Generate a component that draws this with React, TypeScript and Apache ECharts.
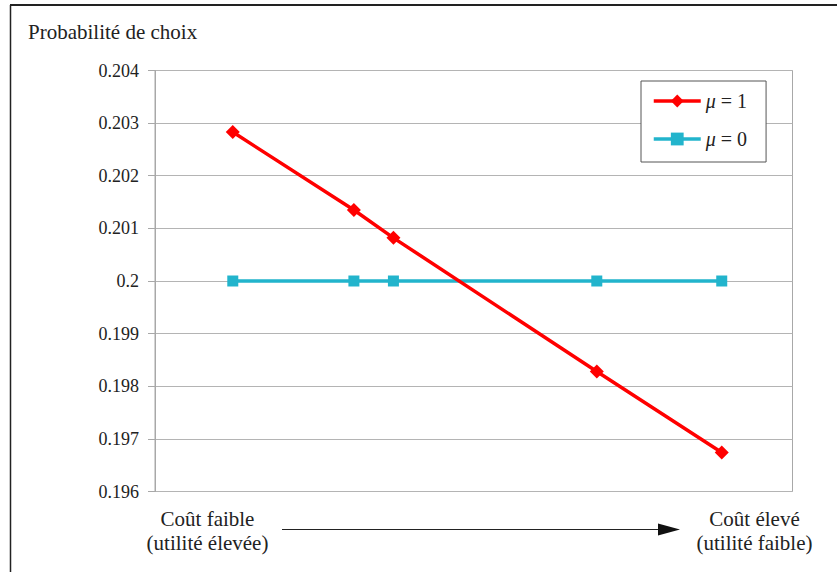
import React, { useEffect, useRef } from "react";
import * as echarts from "echarts";

const xPositions = [12.2, 31.2, 37.4, 69.3, 88.9];
const mu1Values = [0.20283, 0.20135, 0.20082, 0.19828, 0.19674];
const mu0Values = [0.2, 0.2, 0.2, 0.2, 0.2];
const seriesNames = ["μ = 1", "μ = 0"];
const yTitle = "Probabilité de choix";
const leftLabel = "Coût faible\n(utilité élevée)";
const rightLabel = "Coût élevé\n(utilité faible)";

const FONT = "Liberation Serif";

export default function App() {
  const ref = useRef<HTMLDivElement>(null);
  useEffect(() => {
    if (!ref.current) return;
    const chart = echarts.init(ref.current, undefined, { renderer: "svg" });
    const toPairs = (vals: number[]) => xPositions.map((x, i) => [x, vals[i]]);
    chart.setOption({
      animation: false,
      backgroundColor: "#fff",
      textStyle: { fontFamily: FONT },
      grid: {
        left: 155,
        right: 44.5,
        top: 70.5,
        bottom: 80.5,
        show: true,
        borderColor: "#a8a8a8",
        borderWidth: 1,
      },
      xAxis: {
        type: "value",
        min: 0,
        max: 100,
        show: false,
      },
      yAxis: {
        type: "value",
        min: 0.196,
        max: 0.204,
        interval: 0.001,
        axisLine: { show: true, lineStyle: { color: "#a8a8a8", width: 1 } },
        axisTick: { show: true, length: 7, lineStyle: { color: "#a8a8a8" } },
        axisLabel: {
          color: "#222",
          fontFamily: FONT,
          fontSize: 18,
          margin: 16,
          formatter: (v: number) => String(parseFloat(v.toFixed(3))),
        },
        splitLine: { show: true, lineStyle: { color: "#b4b4b4", width: 1 } },
      },
      legend: {
        orient: "vertical",
        left: 641,
        top: 81,
        padding: [10, 19, 13, 11],
        itemGap: 18,
        itemWidth: 47,
        itemHeight: 16,
        itemTextGap: 14,
        borderColor: "#555",
        borderWidth: 1,
        backgroundColor: "#fff",
        data: seriesNames,
        lineStyle: { width: 3.5 },
        formatter: (name: string) => "{i|μ}{n|" + name.slice(1) + "}",
        textStyle: {
          fontFamily: FONT,
          fontSize: 20,
          color: "#222",
          lineHeight: 20,
          rich: {
            i: { fontStyle: "italic", fontFamily: FONT, fontSize: 20, color: "#222", lineHeight: 20 },
            n: { fontFamily: FONT, fontSize: 20, color: "#222", lineHeight: 20 },
          },
        },
      },
      series: [
        {
          name: seriesNames[0],
          type: "line",
          data: toPairs(mu1Values),
          symbol: "diamond",
          symbolSize: 14,
          itemStyle: { color: "#ff0000" },
          lineStyle: { color: "#ff0000", width: 3.5 },
          z: 3,
        },
        {
          name: seriesNames[1],
          type: "line",
          data: toPairs(mu0Values),
          symbol: "rect",
          symbolSize: 11,
          itemStyle: { color: "#22b4cc" },
          lineStyle: { color: "#22b4cc", width: 3.5 },
          z: 2,
        },
      ],
      graphic: [
        { type: "line", shape: { x1: 10, y1: 5, x2: 837, y2: 5 }, style: { stroke: "#222", lineWidth: 2 } },
        { type: "line", shape: { x1: 10.5, y1: 5, x2: 10.5, y2: 572 }, style: { stroke: "#222", lineWidth: 1.5 } },
        {
          type: "text",
          left: 28,
          top: 21,
          style: { text: yTitle, fontFamily: FONT, fontSize: 21, fill: "#222" },
        },
        {
          type: "text",
          x: 207.5,
          y: 531,
          style: {
            text: leftLabel,
            fontFamily: FONT,
            fontSize: 21,
            lineHeight: 24,
            fill: "#222",
            align: "center",
            verticalAlign: "middle",
          },
        },
        {
          type: "text",
          x: 754.5,
          y: 531,
          style: {
            text: rightLabel,
            fontFamily: FONT,
            fontSize: 21,
            lineHeight: 24,
            fill: "#222",
            align: "center",
            verticalAlign: "middle",
          },
        },
        { type: "line", shape: { x1: 282, y1: 529.5, x2: 662, y2: 529.5 }, style: { stroke: "#222", lineWidth: 1.2 } },
        {
          type: "polygon",
          shape: { points: [[658, 523.5], [680, 529.5], [658, 535.5]] },
          style: { fill: "#111" },
        },
      ],
    });
    return () => chart.dispose();
  }, []);
  return (
    <div
      ref={ref}
      style={{ position: "fixed", left: 0, top: 0, width: 837, height: 572 }}
    />
  );
}
